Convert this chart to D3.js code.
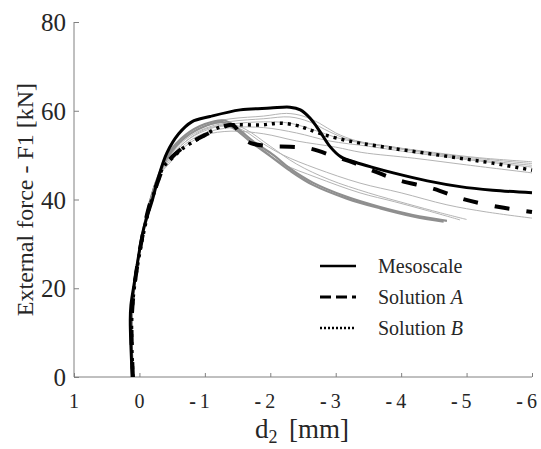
<!DOCTYPE html>
<html><head><meta charset="utf-8"><script src="https://cdn.jsdelivr.net/npm/d3@7"></script></head>
<body style="margin:0">
<svg id="chart" width="541" height="449"></svg>
<script>
// ---- data (d2 [mm], F1 [kN]) ----
const xTicks = [1, 0, -1, -2, -3, -4, -5, -6];
const xTickLabels = ["1", "0", "-1", "-2", "-3", "-4", "-5", "-6"];
const yTicks = [0, 20, 40, 60, 80];

const mesoscale = [[0.11,0],[0.14,12.8],[0.13,16.2],[0.07,21.9],[-0.06,33.1],[-0.2,40],[-0.3,45.5],[-0.42,50.5],[-0.6,54.8],[-0.8,57.5],[-1.08,58.7],[-1.54,60.2],[-2.0,60.6],[-2.3,60.8],[-2.46,60.2],[-2.61,58.3],[-2.76,55.3],[-2.92,51.8],[-3.08,49.6],[-3.3,48.4],[-3.55,47.3],[-3.88,46.0],[-4.4,44.2],[-4.9,42.9],[-5.4,42.1],[-6,41.5]];
const solutionA = [[0.1,0],[0.12,12],[0.08,20],[-0.03,30.5],[-0.15,38.5],[-0.28,44],[-0.38,47.5],[-0.55,50.3],[-0.75,52.5],[-1.0,54.5],[-1.2,55.8],[-1.42,56.8],[-1.52,55.3],[-1.62,53.4],[-1.75,52.5],[-2.0,52.0],[-2.3,51.9],[-2.6,51.5],[-3.0,49.6],[-3.27,48.3],[-3.55,46.6],[-3.95,44.4],[-4.5,42.4],[-4.95,40.1],[-5.5,38.3],[-6,37.2]];
const solutionB = [[0.1,0],[0.12,12],[0.08,20],[-0.03,30],[-0.15,38],[-0.27,43.5],[-0.36,47.2],[-0.52,49.6],[-0.67,51.6],[-0.93,53.9],[-1.19,56.1],[-1.39,56.8],[-1.85,56.8],[-2.15,57.2],[-2.4,56.7],[-2.55,56.0],[-2.76,54.9],[-3.02,53.8],[-3.37,52.7],[-3.88,51.5],[-4.4,50.4],[-4.9,49.3],[-5.4,48.2],[-6,46.6]];

const gray1 = [[0.1,0],[0.12,12],[0.08,20],[-0.03,31],[-0.16,39.5],[-0.28,45],[-0.45,50],[-0.7,54.5],[-1.0,57],[-1.4,58.2],[-1.9,58.8],[-2.25,59.4],[-2.5,58.8],[-2.75,57.2],[-3.0,55],[-3.3,53.3],[-3.8,52],[-4.5,50.6],[-5.2,49.4],[-6,48.5]];
const gray2 = [[0.1,0],[0.12,12],[0.08,20],[-0.03,31],[-0.16,39.5],[-0.28,45],[-0.45,49.5],[-0.7,54],[-1.0,56.5],[-1.4,57.6],[-1.9,58.2],[-2.3,58.6],[-2.6,57.5],[-2.9,55.3],[-3.2,53.5],[-3.8,52],[-4.5,50.4],[-5.2,49.2],[-6,48.1]];
const gray3 = [[0.1,0],[0.12,12],[0.08,20],[-0.03,31],[-0.16,39.5],[-0.28,45],[-0.45,49],[-0.7,53],[-1.0,55.8],[-1.4,57],[-1.9,57.5],[-2.3,57.2],[-2.7,55.5],[-3.1,53.6],[-3.8,51.8],[-4.5,50.2],[-5.2,48.9],[-6,47.7]];
const gray4 = [[0.1,0],[0.12,12],[0.08,20],[-0.03,31],[-0.16,39.5],[-0.28,45],[-0.45,48.5],[-0.7,52.5],[-1.0,55],[-1.4,56.2],[-1.9,56.2],[-2.4,55],[-2.9,53.2],[-3.5,52],[-4.2,50.5],[-5,49],[-6,47.3]];
const gray5 = [[0.1,0],[0.12,12],[0.08,20],[-0.03,31],[-0.16,39.5],[-0.28,45],[-0.45,48],[-0.7,52],[-1.0,54.5],[-1.4,55.4],[-1.9,54.8],[-2.4,53.2],[-3.0,51.8],[-3.4,50.6],[-4.2,49.3],[-5,47.8],[-6,46]];
const gray6 = [[0.1,0],[0.12,12],[0.08,20],[-0.03,31],[-0.16,39.5],[-0.28,45],[-0.45,49.5],[-0.7,53.5],[-1.0,56],[-1.3,57],[-1.6,55.5],[-1.9,52.5],[-2.2,50],[-2.7,47],[-3.37,43.7],[-4,41.5],[-4.7,38.8],[-5.3,37.2],[-6,35.8]];
const gray7 = [[0.1,0],[0.12,12],[0.08,20],[-0.03,31],[-0.16,39.5],[-0.28,45],[-0.45,49],[-0.7,53],[-1.0,55.5],[-1.3,56.5],[-1.6,54.5],[-1.9,51],[-2.2,48],[-2.7,45],[-3.37,41.5],[-3.9,39.5],[-4.4,37.5],[-4.9,35.4]];
const gray8 = [[0.1,0],[0.12,12],[0.08,20],[-0.03,31],[-0.16,39.5],[-0.28,45],[-0.45,50],[-0.7,54],[-1.0,56.5],[-1.3,57.3],[-1.6,56],[-2.0,52],[-2.4,48],[-2.9,44.5],[-3.5,41.5],[-4.1,39],[-4.6,37],[-5.0,35.5]];
const thick1 = [[0.1,0],[0.12,12],[0.08,20],[-0.03,31],[-0.16,39.5],[-0.28,45],[-0.45,50.5],[-0.7,54.5],[-1.0,57],[-1.3,57.8],[-1.5,56],[-1.75,53],[-2.05,50],[-2.3,47],[-2.65,43.8],[-3.17,40.6],[-3.68,38.3],[-4.18,36.5],[-4.7,35.2]];
const thick2 = [[0.1,0],[0.12,12],[0.08,20],[-0.03,31],[-0.16,39.5],[-0.28,45],[-0.45,50],[-0.7,54],[-1.0,56.5],[-1.25,57.5],[-1.45,56],[-1.7,53],[-2.0,49.8],[-2.3,46.5],[-2.65,43.3],[-3.17,40.2],[-3.68,38],[-4.18,36.2],[-4.65,35]];

const legendLabels = ["Mesoscale", "Solution ", "Solution "];
const legendItalic = ["", "A", "B"];

// ---- layout ----
const svg = d3.select("#chart");
const x = d3.scaleLinear().domain([1, -6]).range([74, 532]);
const y = d3.scaleLinear().domain([0, 80]).range([377, 22]);
const axisColor = "#808080";
const textColor = "#262626";

function serif(sel) { return sel.style("font-family", '"Liberation Serif"').attr("fill", textColor); }

const line = d3.line().x(d => x(d[0])).y(d => y(d[1])).curve(d3.curveCatmullRom.alpha(0.5));

// axes (lines and ticks only)
const gx = svg.append("g").attr("transform", `translate(0,${y(0)})`)
  .call(d3.axisBottom(x).tickValues(xTicks).tickSize(-4).tickFormat(""));
gx.select(".domain").attr("stroke", axisColor).attr("d", `M${x(1)},0H${x(-6)}`);
gx.selectAll(".tick line").attr("stroke", axisColor);
gx.selectAll(".tick text").remove();

const gy = svg.append("g").attr("transform", `translate(${x(1)},0)`)
  .call(d3.axisLeft(y).tickValues(yTicks).tickSize(-5).tickFormat(""));
gy.select(".domain").attr("stroke", axisColor).attr("d", `M0,${y(80)}V${y(0)}`);
gy.selectAll(".tick line").attr("stroke", axisColor);
gy.selectAll(".tick text").remove();

// y tick labels
svg.append("g").selectAll("text").data(yTicks).join("text")
  .attr("x", 66).attr("y", d => y(d) + 9)
  .attr("text-anchor", "end").attr("font-size", 25)
  .call(serif)
  .text(d => d);

// x tick labels
const xl = svg.append("g").selectAll("text").data(xTicks).join("text")
  .attr("x", d => x(d) + 5).attr("y", 408)
  .attr("text-anchor", "end").attr("font-size", 20)
  .call(serif);
xl.each(function(d, i) {
  const t = d3.select(this);
  const lab = xTickLabels[i];
  if (lab.startsWith("-")) {
    t.append("tspan").attr("font-weight", "bold").text("-");
    t.append("tspan").attr("dx", 4).text(lab.slice(1));
  } else {
    t.text(lab);
  }
});

// axis titles
const xt = svg.append("text").attr("x", 255).attr("y", 438)
  .attr("font-size", 27).call(serif);
xt.append("tspan").text("d");
xt.append("tspan").attr("font-size", 18).attr("dy", 5).text("2");
xt.append("tspan").attr("x", 289).attr("dy", -5).text("[mm]");

svg.append("text")
  .attr("transform", `translate(33,${(y(0) + y(80)) / 2}) rotate(-90)`)
  .attr("text-anchor", "middle").attr("font-size", 24).call(serif)
  .text("External force - F1 [kN]");

// curves
const plot = svg.append("g");
[gray1, gray2, gray3, gray4, gray5, gray6, gray7, gray8].forEach(s => {
  plot.append("path").datum(s).attr("d", line)
    .attr("fill", "none").attr("stroke", "#b4b4b4").attr("stroke-width", 1);
});
[thick1, thick2].forEach(s => {
  plot.append("path").datum(s).attr("d", line)
    .attr("fill", "none").attr("stroke", "#8f8f8f").attr("stroke-width", 2.2);
});
plot.append("path").datum(solutionA).attr("d", line)
  .attr("fill", "none").attr("stroke", "#000").attr("stroke-width", 4)
  .attr("stroke-dasharray", "15,17");
plot.append("path").datum(solutionB).attr("d", line)
  .attr("fill", "none").attr("stroke", "#000").attr("stroke-width", 3.5)
  .attr("stroke-dasharray", "3,5");
plot.append("path").datum(mesoscale).attr("d", line)
  .attr("fill", "none").attr("stroke", "#000").attr("stroke-width", 3);

// legend
const legY = [266, 297, 328];
const legDash = [null, "11,5", "2,2"];
const legW = [2.5, 3, 2.5];
const lg = svg.append("g");
legendLabels.forEach((lab, i) => {
  lg.append("line").attr("x1", 320).attr("x2", 356)
    .attr("y1", legY[i]).attr("y2", legY[i])
    .attr("stroke", "#000").attr("stroke-width", legW[i])
    .attr("stroke-dasharray", legDash[i]);
  const t = lg.append("text").attr("x", 378).attr("y", legY[i] + 7)
    .attr("font-size", 20).call(serif);
  t.append("tspan").text(lab);
  if (legendItalic[i]) t.append("tspan").attr("font-style", "italic").text(legendItalic[i]);
});
</script>
</body>
</html>
